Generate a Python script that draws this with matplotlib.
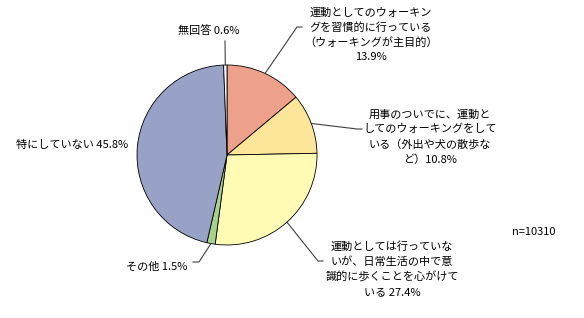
import numpy as np
import matplotlib.pyplot as plt

plt.rcParams['font.family'] = ['Noto Sans CJK JP', 'DejaVu Sans']

# データ（時計回り、上から）
labels = ["運動としてのウォーキン\nグを習慣的に行っている\n（ウォーキングが主目的）\n13.9%",
          "用事のついでに、運動と\nしてのウォーキングをして\nいる（外出や犬の散歩な\nど）10.8%",
          "運動としては行っていな\nいが、日常生活の中で意\n識的に歩くことを心がけて\nいる 27.4%",
          "その他 1.5%",
          "特にしていない 45.8%",
          "無回答 0.6%"]
values = [13.9, 10.8, 27.4, 1.5, 45.8, 0.6]
colors = ["#EDA08A", "#FDE59A", "#FFFBB4", "#A9D18E", "#98A2C6", "#FFFFFF"]
n_text = "n=10310"

W, H = 584, 318
fig = plt.figure(figsize=(W / 100, H / 100), dpi=100)
ax = fig.add_axes([0, 0, 1, 1])

cx, cy, r = 227, H - 155, 90
wedges, _ = ax.pie(values, colors=colors, startangle=90, counterclock=False,
                   center=(cx, cy), radius=r, frame=True,
                   wedgeprops=dict(edgecolor="black", linewidth=0.6))
ax.set_xlim(0, W)
ax.set_ylim(0, H)
ax.set_aspect("equal")
ax.axis("off")


def edge(w):
    a = np.deg2rad((w.theta1 + w.theta2) / 2)
    return cx + r * np.cos(a), cy + r * np.sin(a)


# ラベル位置（ピクセル、上から）: テキスト位置, 折れ点, 線の終点, 配置
layout = [
    ((371, 35), (297, 27), (302, 27), "center"),
    ((430, 137), (357, 129), (362, 129), "center"),
    ((392, 269), (318, 261), (323, 261), "center"),
    ((187, 267), (199, 262), (193, 262), "right"),
    ((128, 145), None, None, "right"),
    ((178, 31), (225, 41), None, "left"),
]

for w, lab, (tp, elbow, end, ha) in zip(wedges, labels, layout):
    x0, y0 = edge(w)
    if elbow is not None:
        xs = [x0, elbow[0]]
        ys = [y0, H - elbow[1]]
        if end is not None:
            xs.append(end[0])
            ys.append(H - end[1])
        ax.plot(xs, ys, color="#404040", linewidth=0.8)
    ax.text(tp[0], H - tp[1], lab, ha=ha, va="center", fontsize=8,
            linespacing=1.5, multialignment="center")

ax.text(534, H - 232, n_text, ha="center", va="center", fontsize=8)

fig.savefig("out.png", dpi=100)
